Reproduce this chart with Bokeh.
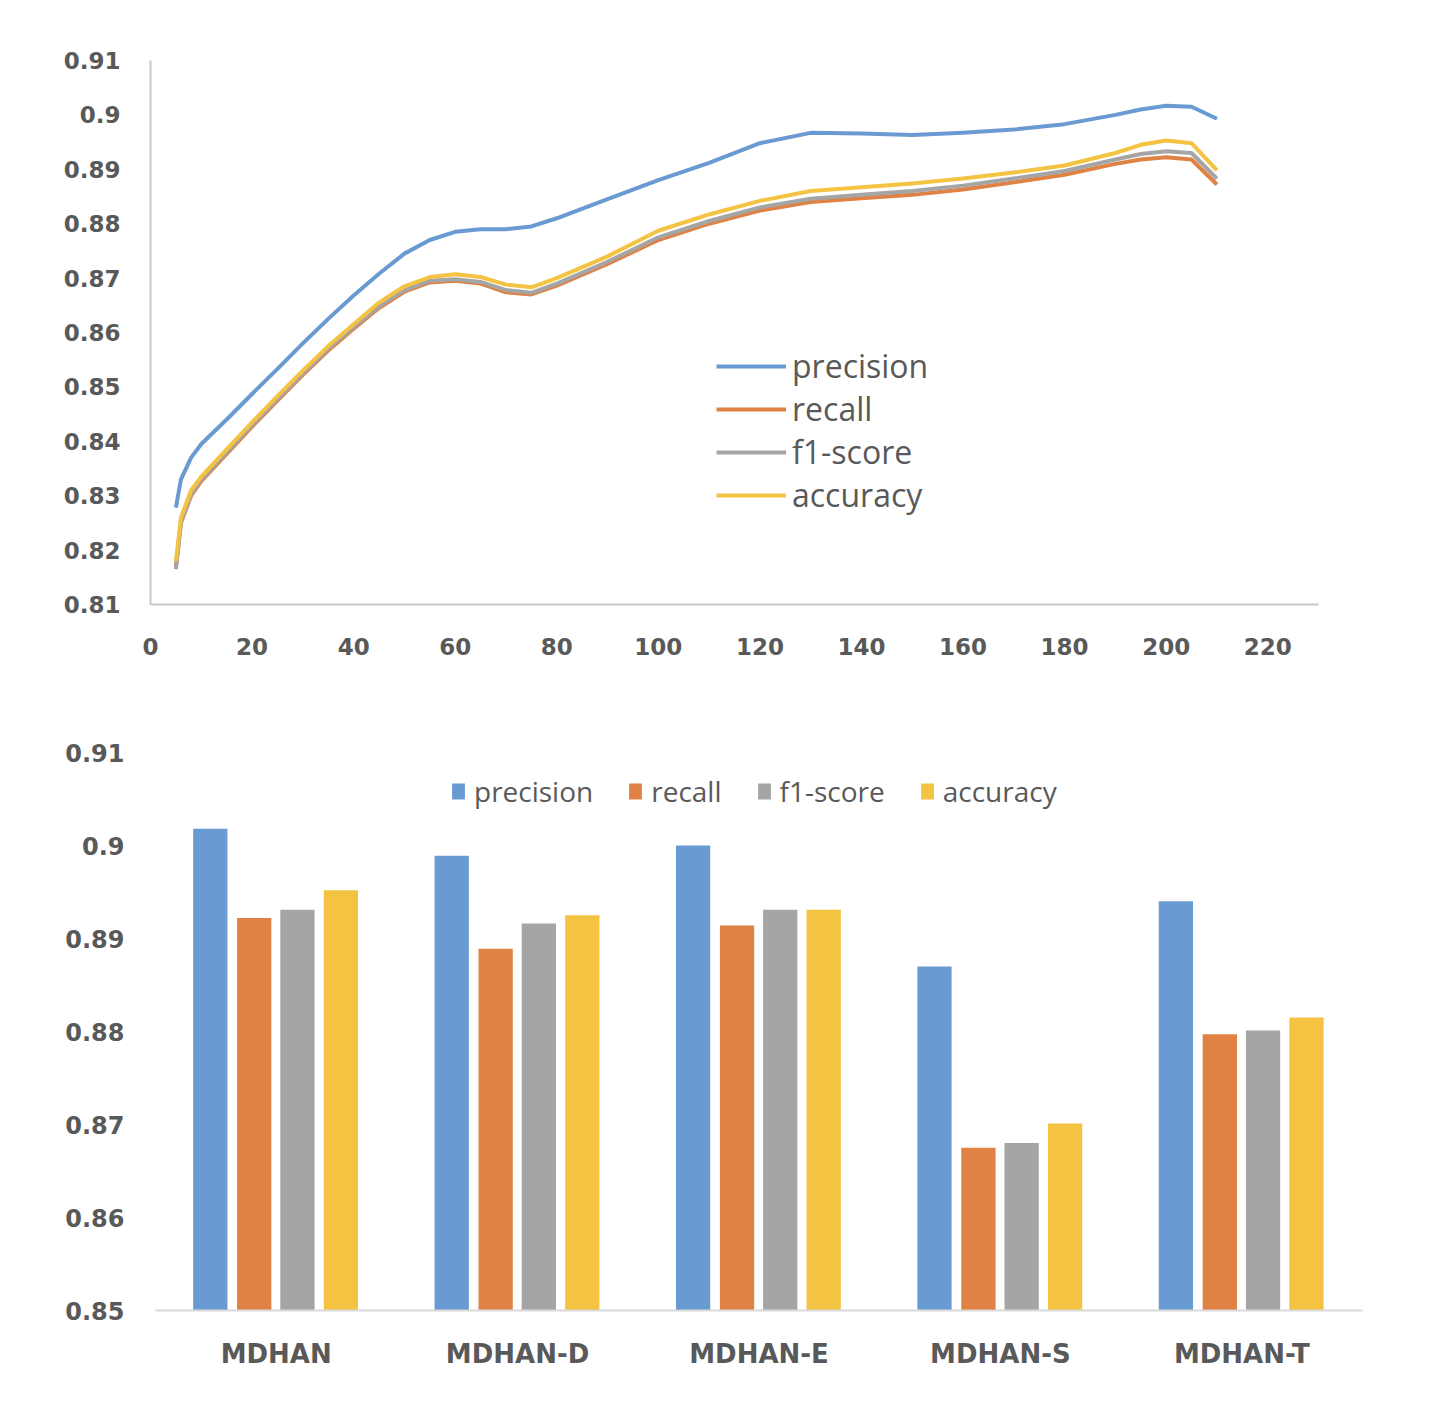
from bokeh.plotting import figure
from bokeh.models import (Legend, LegendItem, FixedTicker, CustomJSTickFormatter,
                          FactorRange, ColumnDataSource)
from bokeh.transform import dodge
from bokeh.embed import file_html
from bokeh.resources import INLINE

# ---------------- data ----------------
epochs = [5, 6, 8, 10, 15, 20, 25, 30, 35, 40, 45, 50, 55, 60, 65, 70, 75, 80,
          90, 100, 110, 120, 130, 140, 150, 160, 170, 180, 190, 195, 200, 205, 210]
precision_curve = [0.8278, 0.8330, 0.8370, 0.8395, 0.8440, 0.8487, 0.8533, 0.8580,
                   0.8625, 0.8668, 0.8708, 0.8745, 0.8770, 0.8785, 0.8790, 0.8790,
                   0.8795, 0.8810, 0.8845, 0.8880, 0.8912, 0.8948, 0.8967, 0.8966,
                   0.8963, 0.8967, 0.8973, 0.8983, 0.9000, 0.9010, 0.9017, 0.9015, 0.8993]
recall_curve = [0.8168, 0.8250, 0.8300, 0.8327, 0.8377, 0.8427, 0.8475, 0.8522,
                0.8567, 0.8607, 0.8645, 0.8675, 0.8692, 0.8695, 0.8690, 0.8674,
                0.8670, 0.8686, 0.8726, 0.8770, 0.8800, 0.8824, 0.8840, 0.8847,
                0.8853, 0.8863, 0.8876, 0.8890, 0.8910, 0.8918, 0.8922, 0.8918, 0.8872]
f1_curve = [0.8165, 0.8252, 0.8303, 0.8330, 0.8380, 0.8430, 0.8478, 0.8525,
            0.8570, 0.8610, 0.8648, 0.8678, 0.8695, 0.8698, 0.8693, 0.8678,
            0.8673, 0.8690, 0.8730, 0.8775, 0.8805, 0.8830, 0.8846, 0.8853,
            0.8860, 0.8870, 0.8883, 0.8897, 0.8918, 0.8928, 0.8933, 0.8930, 0.8883]
accuracy_curve = [0.8180, 0.8260, 0.8310, 0.8335, 0.8385, 0.8435, 0.8483, 0.8530,
                  0.8575, 0.8615, 0.8655, 0.8685, 0.8702, 0.8707, 0.8702, 0.8688,
                  0.8683, 0.8700, 0.8740, 0.8787, 0.8817, 0.8842, 0.8860, 0.8867,
                  0.8874, 0.8883, 0.8894, 0.8907, 0.8930, 0.8945, 0.8953, 0.8948, 0.8898]

models = ["MDHAN", "MDHAN-D", "MDHAN-E", "MDHAN-S", "MDHAN-T"]
precision_bar = [0.9018, 0.8989, 0.9000, 0.8870, 0.8940]
recall_bar = [0.8922, 0.8889, 0.8914, 0.8675, 0.8797]
f1_bar = [0.8931, 0.8916, 0.8931, 0.8680, 0.8801]
accuracy_bar = [0.8952, 0.8925, 0.8931, 0.8701, 0.8815]

series_names = ["precision", "recall", "f1-score", "accuracy"]
colors = ["#6A9AD2", "#E08243", "#A5A5A5", "#F5C342"]

TICK_FONT = "DejaVu Sans"
TEXT_FONT = "Open Sans"
GREY = "#595959"
AXIS_GREY = "#C8C8C8"

fmt = CustomJSTickFormatter(code="return (Math.round(tick*100)/100).toString();")

# ---------------- top: line chart ----------------
p1 = figure(width=1440, height=690, x_range=(0, 230), y_range=(0.81, 0.91),
            output_backend="svg", toolbar_location=None,
            min_border_left=150, min_border_right=122, min_border_top=60, min_border_bottom=86)
p1.outline_line_color = None
p1.grid.grid_line_color = None

curves = [precision_curve, recall_curve, f1_curve, accuracy_curve]
renderers = []
for vals, c in zip(curves, colors):
    r = p1.line(epochs, vals, line_color=c, line_width=4, line_join="round")
    renderers.append(r)

p1.xaxis.ticker = FixedTicker(ticks=list(range(0, 221, 20)))
p1.yaxis.ticker = FixedTicker(ticks=[0.81 + 0.01 * i for i in range(11)])
p1.yaxis.formatter = fmt
for ax in (p1.xaxis[0], p1.yaxis[0]):
    ax.axis_line_color = AXIS_GREY
    ax.axis_line_width = 2
    ax.major_tick_line_color = None
    ax.minor_tick_line_color = None
    ax.major_label_text_font = TICK_FONT
    ax.major_label_text_font_style = "bold"
    ax.major_label_text_font_size = "23px"
    ax.major_label_text_color = GREY
p1.yaxis.major_label_standoff = 24
p1.xaxis.major_label_standoff = 27

leg1 = Legend(items=[LegendItem(label=n, renderers=[r]) for n, r in zip(series_names, renderers)],
              location=(566, 88), orientation="vertical",
              glyph_width=70, glyph_height=42, label_height=42, spacing=0, padding=0,
              label_standoff=6, margin=0,
              label_text_font=TEXT_FONT, label_text_font_size="32px",
              label_text_color=GREY, border_line_color=None, background_fill_alpha=0)
p1.add_layout(leg1, "center")

# ---------------- bottom: bar chart ----------------
src = ColumnDataSource(dict(model=models, precision=precision_bar, recall=recall_bar,
                            f1=f1_bar, accuracy=accuracy_bar))
p2 = figure(width=1440, height=720, x_range=FactorRange(*models, range_padding=0),
            y_range=(0.85, 0.91), output_backend="svg", toolbar_location=None,
            min_border_left=155, min_border_right=78, min_border_top=62, min_border_bottom=100)
p2.outline_line_color = None
p2.grid.grid_line_color = None

offsets = [-0.273, -0.091, 0.088, 0.268]
fields = ["precision", "recall", "f1", "accuracy"]
bar_renderers = []
for f, off, c in zip(fields, offsets, colors):
    r = p2.vbar(x=dodge("model", off, range=p2.x_range), top=f, bottom=0.85, width=0.142,
                source=src, fill_color=c, line_color=None)
    bar_renderers.append(r)

p2.yaxis.ticker = FixedTicker(ticks=[0.85 + 0.01 * i for i in range(7)])
p2.yaxis.formatter = fmt
p2.yaxis.axis_line_color = None
p2.xaxis.axis_line_color = "#D9D9D9"
p2.xaxis.axis_line_width = 2
for ax in (p2.xaxis[0], p2.yaxis[0]):
    ax.major_tick_line_color = None
    ax.minor_tick_line_color = None
    ax.major_label_text_font = TICK_FONT
    ax.major_label_text_font_style = "bold"
    ax.major_label_text_color = GREY
p2.yaxis.major_label_text_font_size = "24px"
p2.xaxis.major_label_text_font_size = "26px"
p2.yaxis.major_label_standoff = 25
p2.xaxis.major_label_standoff = 22

leg2 = Legend(items=[LegendItem(label=n, renderers=[r]) for n, r in zip(series_names, bar_renderers)],
              location=(295, 500), orientation="horizontal",
              glyph_width=16, glyph_height=20, label_height=34, spacing=34, padding=0,
              label_standoff=8, margin=0,
              label_text_font=TEXT_FONT, label_text_font_size="28px",
              label_text_color=GREY, border_line_color=None, background_fill_alpha=0)
p2.add_layout(leg2, "center")

open("out.html", "w").write(file_html([p1, p2], INLINE))
